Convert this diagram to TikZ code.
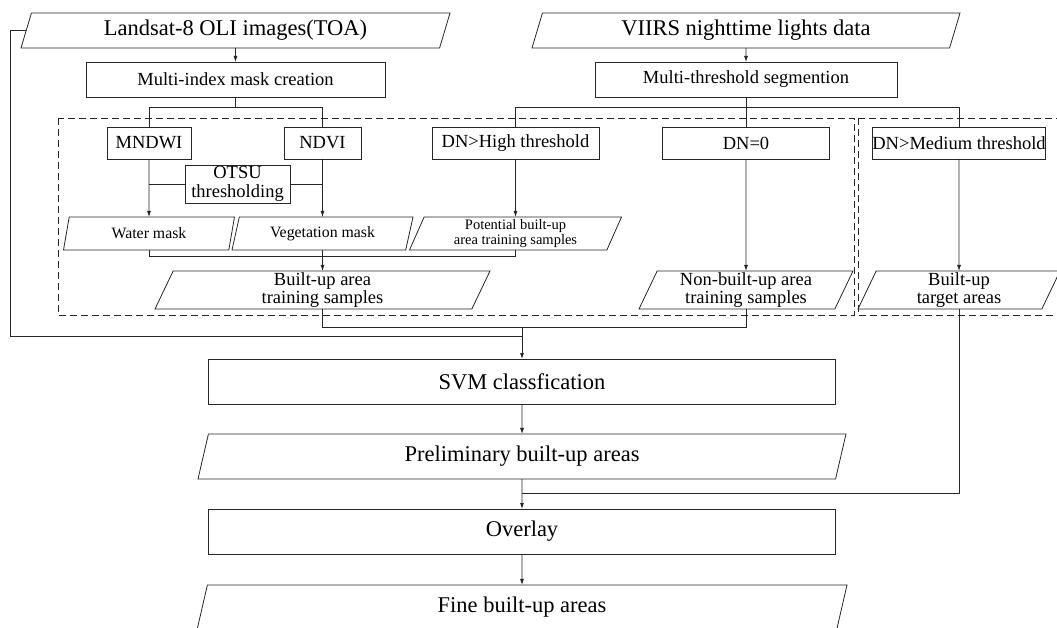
\documentclass[tikz,border=0pt]{standalone}
\usepackage{fontspec}
\setmainfont{Liberation Serif}
\usetikzlibrary{shapes.geometric,arrows.meta}
\def\FsBig{\fontsize{22.5}{26}\selectfont}
\def\FsMed{\fontsize{18.5}{18.8}\selectfont}
\def\FsMask{\fontsize{15.8}{17}\selectfont}
\def\FsSmall{\fontsize{14.5}{15.5}\selectfont}
\begin{document}
\begin{tikzpicture}[x=1pt,y=-1pt,
  line width=0.8pt,
  box/.style={draw=black!85, rectangle, inner sep=0pt, outer sep=0pt, align=center},
  io/.style={draw=black!85, trapezium, trapezium left angle=63, trapezium right angle=117,
    trapezium stretches body, inner sep=0pt, outer sep=0pt, align=center},
  ln/.style={draw=black!85},
  arr/.style={draw=black!85, -{Latex[length=6pt,width=4pt]}},
  dbox/.style={draw=black!85, dash pattern=on 7pt off 4pt}]
\useasboundingbox (0,0) rectangle (1057,628);
% top inputs
\node[io, font=\FsBig, minimum width=429pt, minimum height=35pt] (land) at (235.5,30.5) {Landsat-8 OLI images(TOA)};
\node[io, font=\FsBig, minimum width=428pt, minimum height=35pt] (viirs) at (746,30.5) {VIIRS nighttime lights data};
\node[box, font=\FsMed, minimum width=299pt, minimum height=35pt] (mi) at (235.5,79.5) {Multi-index mask creation};
\node[box, font=\FsMed, minimum width=302pt, minimum height=35pt] (mt) at (746,79.5) {Multi-threshold segmention};
% second row
\node[box, font=\FsMed, minimum width=84pt, minimum height=32pt] (mndwi) at (149,143) {MNDWI};
\node[box, font=\FsMed, minimum width=77pt, minimum height=32pt] (ndvi) at (322.5,143) {NDVI};
\node[box, font=\FsMed, minimum width=167pt, minimum height=32pt] (dnh) at (515.5,143) {DN>High threshold};
\node[box, font=\FsMed, minimum width=167pt, minimum height=32pt] (dn0) at (746,143) {DN=0};
\node[box, font=\FsMed, minimum width=172pt, minimum height=32pt] (dnm) at (959,143) {DN>Medium threshold};
\node[box, font=\FsMed, minimum width=105pt, minimum height=38pt] (otsu) at (237.5,184) {OTSU\\thresholding};
% masks
\node[io, font=\FsMask, minimum width=171pt, minimum height=33pt] (water) at (149,233.5) {Water mask};
\node[io, font=\FsMask, minimum width=181pt, minimum height=33pt] (veg) at (322.5,233.5) {Vegetation mask};
\node[io, font=\FsSmall, minimum width=212pt, minimum height=33pt] (pot) at (515.5,233.5) {Potential built-up\\area training samples};
% samples
\node[io, font=\FsMed, minimum width=335pt, minimum height=38pt] (bt) at (322.5,290) {Built-up area\\training samples};
\node[io, font=\FsMed, minimum width=214pt, minimum height=38pt] (nb) at (746,290) {Non-built-up area\\training samples};
\node[io, font=\FsMed, minimum width=202pt, minimum height=38pt] (tg) at (959,290) {Built-up\\target areas};
% bottom chain
\node[box, font=\FsBig, minimum width=627pt, minimum height=45pt] (svm) at (522,381.5) {SVM classfication};
\node[io, font=\FsBig, minimum width=648pt, minimum height=45pt] (pr) at (522,456.5) {Preliminary built-up areas};
\node[box, font=\FsBig, minimum width=627pt, minimum height=45pt] (ov) at (522,531.5) {Overlay};
\node[io, font=\FsBig, minimum width=650pt, minimum height=45pt] (fn) at (522,607.5) {Fine built-up areas};
% helper coordinates
\coordinate (sp1) at (0,107);
\coordinate (sp2) at (0,256);
\coordinate (sp3) at (0,327);
\coordinate (lp) at (10,336);
\coordinate (sp4) at (0,493);
% dashed groups
\draw[dbox] (58,118) rectangle (854,315);
\draw[dbox] (858,118) rectangle (1066,315);
% connectors
\draw[arr] (land.south) -- (mi.north);
\draw[arr] (viirs.south) -- (mt.north);
\draw[ln] (mi.south) -- (mi.south |- sp1);
\draw[ln] (mndwi.north) -- (mndwi.north |- sp1) -- (ndvi.north |- sp1) -- (ndvi.north);
\draw[ln] (mt.south) -- (dn0.north);
\draw[ln] (dnh.north) -- (dnh.north |- sp1) -- (dnm.north |- sp1) -- (dnm.north);
\draw[ln] (otsu.west) -- (otsu.west -| mndwi.south);
\draw[ln] (otsu.east) -- (otsu.east -| ndvi.south);
\draw[arr] (mndwi.south) -- (water.north);
\draw[arr] (ndvi.south) -- (veg.north);
\draw[arr] (dnh.south) -- (pot.north);
\draw[arr] (dn0.south) -- (nb.north);
\draw[arr] (dnm.south) -- (tg.north);
\draw[ln] (water.south) -- (water.south |- sp2) -- (pot.south |- sp2) -- (pot.south);
\draw[arr] (veg.south) -- (bt.north);
\draw[ln] (bt.south) -- (bt.south |- sp3) -- (nb.south |- sp3) -- (nb.south);
\draw[ln] (land.west) -| (lp) -- (svm.north |- lp);
\draw[arr] (svm.north |- sp3) -- (svm.north);
\draw[arr] (svm.south) -- (pr.north);
\draw[ln] (tg.south) -- (tg.south |- sp4) -- (pr.south |- sp4);
\draw[arr] (pr.south) -- (ov.north);
\draw[arr] (ov.south) -- (fn.north);
\end{tikzpicture}
\end{document}
